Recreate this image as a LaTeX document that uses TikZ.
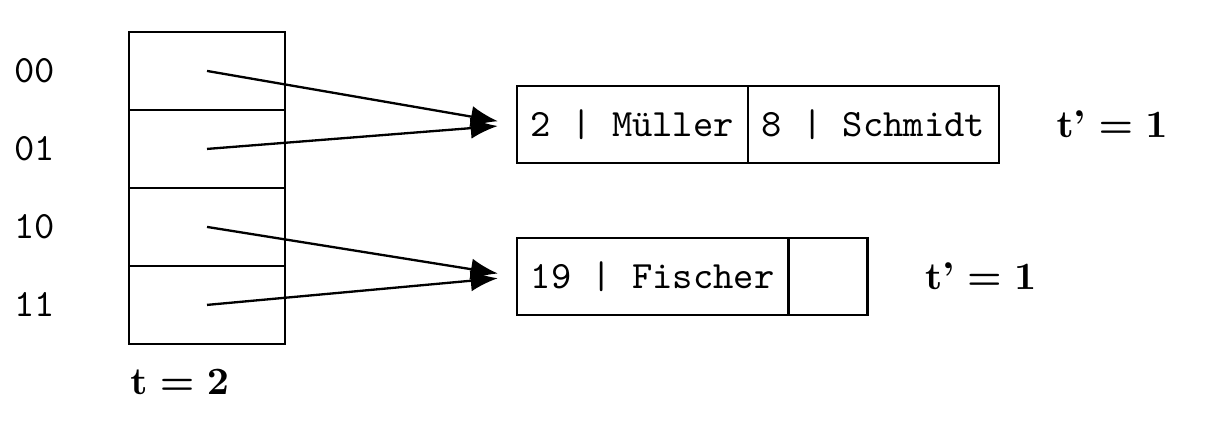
\documentclass[tikz,border=0pt]{standalone}
\usepackage{fontspec}
\usetikzlibrary{positioning,arrows.meta}

\begin{document}
\begin{tikzpicture}[
	cell/.style={draw, semithick, minimum width=1.418cm, minimum height=0.709cm},
	rec/.style={draw, semithick, font=\ttfamily, minimum height=0.7cm, inner xsep=3.6pt, outer sep=0pt},
	lab/.style={font=\bfseries\boldmath},
	ptr/.style={semithick, -{Latex[length=7pt,width=5.5pt]}, shorten >=5pt}
]
\useasboundingbox (0,0) rectangle (11.055,-3.864);

\foreach \b [count=\i from 0] in {00,01,10,11} {
	\node[cell] (c\i) at (1.882,-0.645-0.709*\i) {};
	\node[font=\ttfamily] (l\i) at (0.318,-0.645-0.709*\i) {\b};
}

\node[rec, anchor=west] (b1a) at (4.7,-1.132) {2 | Müller};
\node[rec, right=0pt of b1a] (b1b) {8 | Schmidt};
\node[rec, anchor=west] (b2a) at (4.7,-2.514) {19 | Fischer};
\node[rec, right=0pt of b2a, minimum width=0.72cm] (b2b) {};

\draw[ptr] (c0.center) -- (b1a.west);
\draw[ptr] (c1.center) -- (b1a.west);
\draw[ptr] (c2.center) -- (b2a.west);
\draw[ptr] (c3.center) -- (b2a.west);

\node[lab, right=0.4cm of b1b] (t1) {$\mathbf{t}$'$\mathbf{{}={}1}$};
\node[lab, right=0.4cm of b2b] (t2) {$\mathbf{t}$'$\mathbf{{}={}1}$};
\node[lab, anchor=west] (t) at (1.06,-3.473) {$\mathbf{t = 2}$};
\end{tikzpicture}
\end{document}
